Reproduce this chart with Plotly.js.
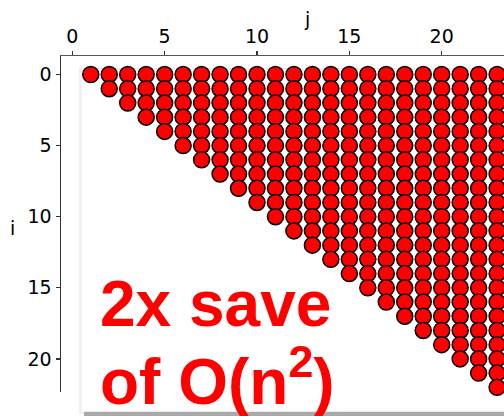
<!DOCTYPE html>
<html>
<head>
<meta charset="utf-8">
<script src="https://cdn.plot.ly/plotly-3.0.1.min.js"></script>
<style>html,body{margin:0;padding:0;background:#fff;}#chart{width:504px;height:416px;}</style>
</head>
<body>
<div id="chart"></div>
<script>
// Row indices i and column indices j of the triangular pattern (cells with j > i are marked)
const iValues = [0,1,2,3,4,5,6,7,8,9,10,11,12,13,14,15,16,17,18,19,20,21,22];
const jValues = [1,2,3,4,5,6,7,8,9,10,11,12,13,14,15,16,17,18,19,20,21,22,23];
const xTicks = [0,5,10,15,20];
const yTicks = [0,5,10,15,20];
const line1 = "2x save";
const line2 = "of O(n<sup>2</sup>)";

const px = [], py = [];
for (const i of iValues) for (const j of jValues) if (j > i) { px.push(j); py.push(i); }

// pixel geometry helpers
const W = 504, H = 416, L = 61, T = 56, R = 504, B = 392;
const pxX = X => (X - L) / (R - L);
const pxY = Y => (B - Y) / (B - T);
const xs = 18.47, x0 = 72.3, ys = 14.22, y0 = 74.5;

const trace = {
  type: 'scatter', mode: 'markers', x: px, y: py, cliponaxis: false,
  marker: {size: 16, color: '#ff0000', line: {color: '#000', width: 1.5}},
  hoverinfo: 'skip'
};

const layout = {
  width: W, height: H,
  margin: {l: L, t: T, r: W - R, b: H - B, pad: 0},
  paper_bgcolor: '#fff', plot_bgcolor: 'rgba(0,0,0,0)',
  showlegend: false,
  font: {family: 'DejaVu Sans', size: 19, color: '#000'},
  xaxis: {
    side: 'top', range: [(L - x0) / xs, (R - x0) / xs],
    tickvals: xTicks, ticktext: xTicks.map(String),
    tickfont: {family: 'DejaVu Sans', size: 19, color: '#000'},
    ticks: 'outside', ticklen: 4, tickwidth: 1.3, tickcolor: '#333',
    showline: true, linecolor: '#555', linewidth: 1.5,
    showgrid: false, zeroline: false, ticklabelstandoff: 0
  },
  yaxis: {
    range: [(B - y0) / ys, (T - y0) / ys],
    tickvals: yTicks, ticktext: yTicks.map(String),
    tickfont: {family: 'DejaVu Sans', size: 19, color: '#000'},
    ticks: 'outside', ticklen: 4, tickwidth: 1.3, tickcolor: '#333',
    showline: true, linecolor: '#333', linewidth: 1.5,
    showgrid: false, zeroline: false, ticklabelstandoff: 0
  },
  shapes: [
    {type: 'rect', xref: 'paper', yref: 'paper', layer: 'below',
     x0: pxX(79), x1: pxX(620), y0: pxY(414), y1: pxY(68),
     fillcolor: '#efefef', line: {width: 0}},
    {type: 'rect', xref: 'paper', yref: 'paper', layer: 'below',
     x0: pxX(84), x1: pxX(620), y0: pxY(420), y1: pxY(74),
     fillcolor: '#aaaaaa', line: {width: 0}},
    {type: 'rect', xref: 'paper', yref: 'paper', layer: 'below',
     x0: pxX(81.7), x1: pxX(620), y0: pxY(411.7), y1: pxY(70),
     fillcolor: '#ffffff', line: {width: 0}}
  ],
  annotations: [
    {text: 'j', xref: 'paper', yref: 'paper', x: pxX(307), y: pxY(19),
     xanchor: 'center', yanchor: 'middle', showarrow: false,
     font: {family: 'DejaVu Sans', size: 19, color: '#000'}},
    {text: 'i', xref: 'paper', yref: 'paper', x: pxX(12), y: pxY(228),
     xanchor: 'center', yanchor: 'middle', showarrow: false,
     font: {family: 'DejaVu Sans', size: 19, color: '#000'}},
    {text: line1, xref: 'paper', yref: 'paper', x: pxX(99), y: pxY(304),
     xanchor: 'left', yanchor: 'middle', showarrow: false, borderpad: 0,
     font: {family: 'Liberation Sans', size: 64, color: '#ff0000', weight: 'bold'}},
    {text: line2, xref: 'paper', yref: 'paper', x: pxX(99), y: pxY(377),
     xanchor: 'left', yanchor: 'middle', showarrow: false, borderpad: 0,
     font: {family: 'Liberation Sans', size: 64, color: '#ff0000', weight: 'bold'}}
  ]
};

Plotly.newPlot('chart', [trace], layout, {staticPlot: true, displayModeBar: false});
</script>
</body>
</html>
